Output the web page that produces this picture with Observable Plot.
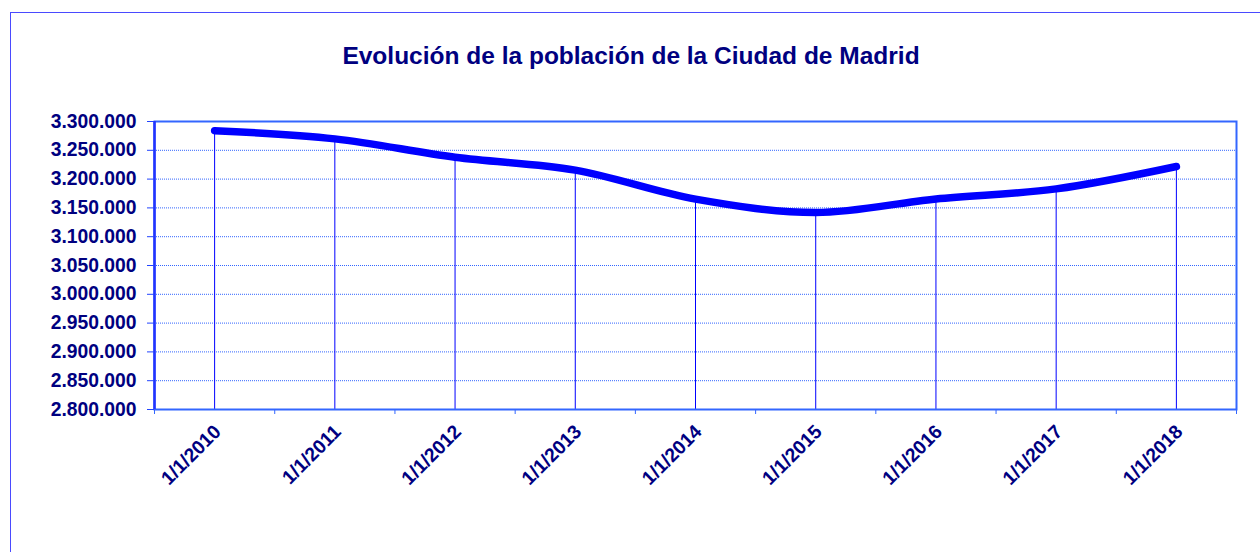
<!DOCTYPE html>
<html>
<head>
<meta charset="utf-8">
<script src="https://cdn.jsdelivr.net/npm/d3@7"></script>
<script src="https://cdn.jsdelivr.net/npm/@observablehq/plot@0.6"></script>
<style>
  html, body { margin: 0; padding: 0; background: #fff; overflow: hidden; }
  #wrap { position: relative; width: 1260px; height: 552px; }
  #border { position: absolute; left: 10px; top: 12px; width: 1300px; height: 600px; border: 1px solid #4a4aff; box-sizing: border-box; }
  #title { position: absolute; left: 0; top: 42px; width: 1262px; text-align: center; font-family: "Liberation Sans", Arial, sans-serif; font-weight: bold; font-size: 24.5px; color: #000080; }
  #chart { position: absolute; left: 0; top: 0; }
</style>
</head>
<body>
<div id="wrap">
  <div id="border"></div>
  <div id="chart"></div>
  <div id="title">Evolución de la población de la Ciudad de Madrid</div>
</div>
<script>
const dates = ["1/1/2010", "1/1/2011", "1/1/2012", "1/1/2013", "1/1/2014", "1/1/2015", "1/1/2016", "1/1/2017", "1/1/2018"];
const population = [3284110, 3269861, 3237937, 3215633, 3165235, 3141991, 3165541, 3182981, 3221824];
const yTicks = [2800000, 2850000, 2900000, 2950000, 3000000, 3050000, 3100000, 3150000, 3200000, 3250000, 3300000];

const data = dates.map((d, i) => ({i, date: d, value: population[i]}));
const fmt = d3.formatLocale({decimal: ",", thousands: ".", grouping: [3], currency: ["", "€"]}).format(",");
const idx = d3.range(dates.length);
const bounds = d3.range(dates.length + 1).map(k => k - 0.5);

const chart = Plot.plot({
  width: 1260,
  height: 552,
  marginLeft: 154,
  marginRight: 24,
  marginTop: 121,
  marginBottom: 143,
  style: {fontFamily: "Liberation Sans, Arial, sans-serif", background: "transparent", overflow: "visible"},
  x: {type: "linear", domain: [-0.5, dates.length - 0.5]},
  y: {domain: [2800000, 3300000]},
  marks: [
    Plot.gridY(yTicks.slice(1, -1), {stroke: "#3366ff", strokeOpacity: 1, strokeWidth: 1, strokeDasharray: "1,1"}),
    Plot.ruleX(data, {x: "i", y1: 2800000, y2: "value", stroke: "#0000ff", strokeWidth: 1}),
    Plot.frame({stroke: "#3366ff", strokeWidth: 2}),
    Plot.ruleX([-0.5], {stroke: "#2233ff", strokeWidth: 2.5}),
    Plot.axisY(yTicks, {tickFormat: fmt, tickSize: 7, tickPadding: 11, stroke: "#2244ff", fill: "#000080", fontSize: 19.3, fontWeight: "bold", label: null}),
    Plot.axisX(bounds, {tickFormat: () => "", tickSize: 5, stroke: "#3366ff", label: null}),
    Plot.axisX(idx, {tickFormat: i => dates[i], tickSize: 0, tickPadding: 19, tickRotate: -45, fill: "#000080", fontSize: 19.3, fontWeight: "bold", label: null, dx: 3}),
    Plot.line(data, {x: "i", y: "value", curve: "catmull-rom", stroke: "#0000ff", strokeWidth: 7.5, strokeLinecap: "round", strokeLinejoin: "round"})
  ]
});
document.getElementById("chart").appendChild(chart);
</script>
</body>
</html>
